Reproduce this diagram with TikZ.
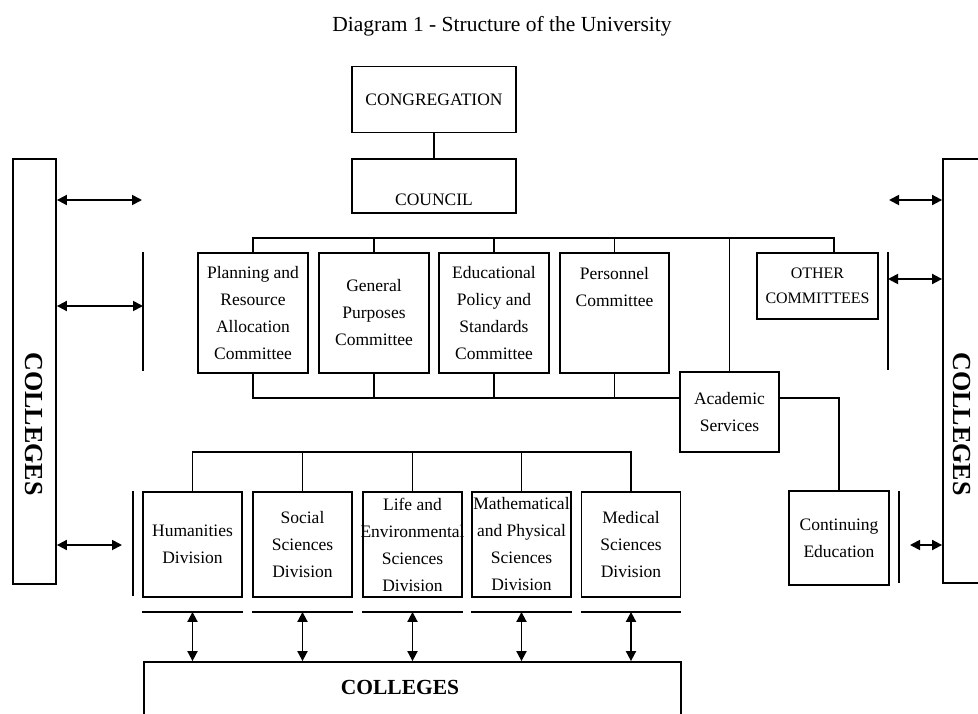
\documentclass[tikz,border=0pt]{standalone}
\usepackage{fontspec}
\setmainfont{Liberation Serif}
\usetikzlibrary{arrows.meta}
\newcommand{\overhang}[1]{\makebox[0pt]{#1}}

\begin{document}
\begin{tikzpicture}[x=1pt, y=-1pt,
    unit/.style={draw, line width=1.8pt, inner sep=0pt, align=center, font=\fontsize{17.5}{27}\selectfont},
    bigbox/.style={draw, line width=1.8pt, inner sep=0pt},
    side/.style={font=\fontsize{26}{30}\selectfont\bfseries, rotate=-90},
    link/.style={line width=1.8pt},
    bar/.style={line width=1.8pt},
    both/.style={{Triangle[length=10pt,width=10pt]}-{Triangle[length=10pt,width=10pt]}, line width=1.8pt},
]
\useasboundingbox (0,0) rectangle (978,713);
\clip (0,0) rectangle (978,713);

\node[font=\fontsize{21.5}{24}\selectfont] (title) at (502,26) {Diagram 1 - Structure of the University};

% top of the tree
\node[unit, minimum width=164pt, minimum height=66pt] (cong) at (434,99.5) {CONGREGATION};
\node[unit, minimum width=164pt, minimum height=54pt, text height=40pt] (council) at (434,186) {COUNCIL};

% committees
\node[unit, minimum width=110pt, minimum height=120pt] (plan) at (253,313) {Planning and\\Resource\\Allocation\\Committee};
\node[unit, minimum width=110pt, minimum height=120pt] (gen) at (374,313) {General\\Purposes\\Committee};
\node[unit, minimum width=110pt, minimum height=120pt] (edu) at (494,313) {Educational\\Policy and\\Standards\\Committee};
\node[unit, minimum width=109pt, minimum height=120pt, text depth=53pt] (pers) at (614.5,313) {Personnel\\Committee};
\node[unit, minimum width=121pt, minimum height=66pt, font=\fontsize{16}{25}\selectfont] (other) at (817.5,286) {OTHER\\COMMITTEES};
\node[unit, minimum width=99pt, minimum height=80pt] (acad) at (729.5,412) {Academic\\Services};

% divisions
\node[unit, minimum width=99pt, minimum height=105pt] (hum) at (192.5,544.5) {Humanities\\Division};
\node[unit, minimum width=99pt, minimum height=105pt] (soc) at (302.5,544.5) {Social\\Sciences\\Division};
\node[unit, minimum width=99pt, minimum height=105pt] (life) at (412.5,544.5) {Life and\\\overhang{Environmental}\\Sciences\\Division};
\node[unit, minimum width=99pt, minimum height=105pt] (math) at (521.5,544.5) {\overhang{Mathematical}\\and Physical\\Sciences\\Division};
\node[unit, minimum width=99pt, minimum height=105pt] (med) at (631,544.5) {Medical\\Sciences\\Division};
\node[unit, minimum width=100pt, minimum height=94pt] (cont) at (839,538) {Continuing\\Education};

% colleges
\node[bigbox, minimum width=43pt, minimum height=425pt] (westcol) at (34.5,371.5) {};
\node[bigbox, minimum width=47pt, minimum height=424pt] (eastcol) at (966.5,371) {};
\node[bigbox, minimum width=537pt, minimum height=76pt] (southcol) at (412.5,700) {};
\node[side] (westlabel) at (34,424) {COLLEGES};
\node[side] (eastlabel) at (962,424) {COLLEGES};
\node[font=\fontsize{21.5}{24}\selectfont\bfseries] (southlabel) at (400,687) {COLLEGES};

\coordinate (topbus) at (0,238);
\coordinate (midbus) at (0,398);
\coordinate (divbus) at (0,452);
\coordinate (otherdrop) at (834,238);

\draw[link] (cong) -- (council);
\draw[link] (plan.north) |- (otherdrop) -- (otherdrop |- other.north);
\foreach \n in {gen,edu,pers,acad}
    \draw[link] (\n.north) -- (\n.north |- topbus);
\draw[link] (plan.south) |- (midbus -| acad.west);
\foreach \n in {gen,edu,pers}
    \draw[link] (\n.south) -- (\n.south |- midbus);
\draw[link] (acad.east |- midbus) -| (cont.north);
\draw[link] (hum.north) |- (divbus -| med.north) -- (med.north);
\foreach \n in {soc,life,math}
    \draw[link] (\n.north) -- (\n.north |- divbus);

% links to the colleges
\foreach \n in {hum,soc,life,math,med} {
    \draw[bar] ([yshift=-14pt]\n.south west) -- ([yshift=-14pt]\n.south east);
    \draw[both] ([yshift=-14pt]\n.south) -- (\n.south |- southcol.north);
}

\coordinate (w1) at (142,200);
\coordinate (w2) at (143,306);
\coordinate (w3) at (122,545);
\coordinate (e1) at (889,200);
\coordinate (e2) at (888,279);
\coordinate (e3) at (910,545);
\draw[both] (w1 -| westcol.east) -- (w1);
\draw[both] (w2 -| westcol.east) -- (w2);
\draw[both] (w3 -| westcol.east) -- (w3);
\draw[both] (e1) -- (e1 -| eastcol.west);
\draw[both] (e2) -- (e2 -| eastcol.west);
\draw[both] (e3) -- (e3 -| eastcol.west);
\draw[bar] (143,252) -- (143,371);
\draw[bar] (133,491) -- (133,596);
\draw[bar] (888,252) -- (888,370);
\draw[bar] (899,491) -- (899,583);

\end{tikzpicture}
\end{document}
